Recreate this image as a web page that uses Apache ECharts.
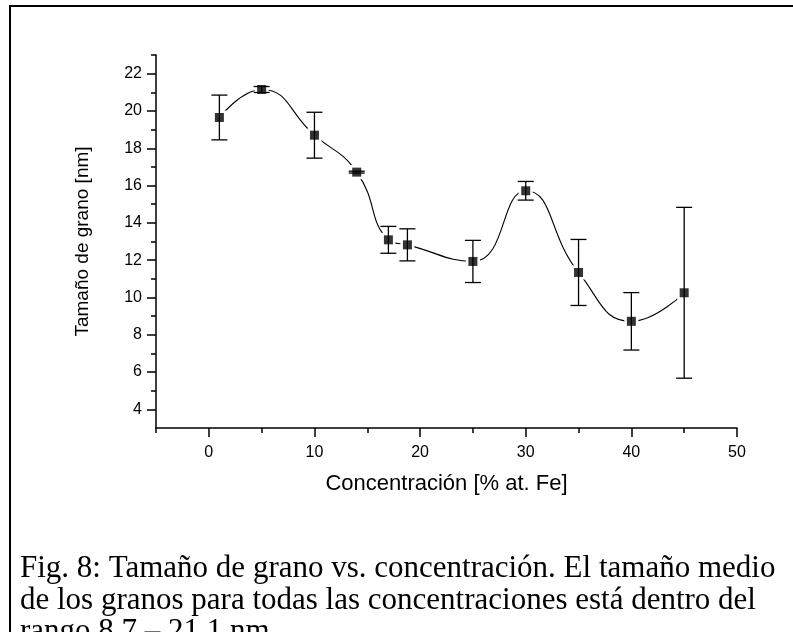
<!DOCTYPE html>
<html>
<head>
<meta charset="utf-8">
<script src="https://cdn.jsdelivr.net/npm/echarts@6/dist/echarts.min.js"></script>
<style>
  html, body { margin: 0; padding: 0; background: #fff; }
  #grano { width: 793px; height: 632px; }
</style>
</head>
<body>
<div id="grano"></div>
<script>
// datos
var conc = [1, 5, 10, 14, 17, 18.8, 25, 30, 35, 40, 45];
var tamano = [19.65, 21.15, 18.7, 16.72, 13.09, 12.82, 11.93, 15.72, 11.34, 8.72, 10.25];
var error = [1.2, 0.16, 1.23, 0.05, 0.72, 0.86, 1.13, 0.5, 1.77, 1.54, 4.58];

var xMajor = [0, 10, 20, 30, 40, 50];
var xMinor = [-5, 5, 15, 25, 35, 45];
var yMajor = [4, 6, 8, 10, 12, 14, 16, 18, 20, 22];
var yMinor = [5, 7, 9, 11, 13, 15, 17, 19, 21, 23];

var caption = [
    'Fig. 8: Tamaño de grano vs. concentración. El tamaño medio',
    'de los granos para todas las concentraciones está dentro del',
    'rango 8.7 – 21.1 nm'
];

var puntos = conc.map(function (x, i) { return [x, tamano[i]]; });
var barras = conc.map(function (x, i) { return [x, tamano[i] - error[i], tamano[i] + error[i]]; });

var font = 'Liberation Sans, Arial, sans-serif';
var serif = '31px "Liberation Serif", "Times New Roman", serif';
var tickStyle = { color: '#000', width: 1.5 };

var myChart = echarts.init(document.getElementById('grano'));
option = {
    animation: false,
    backgroundColor: '#fff',
    grid: { left: 156, right: 56, top: 55, bottom: 204 },
    xAxis: [
        {
            type: 'value', min: -5, max: 50,
            axisLine: { show: true, onZero: false, lineStyle: { color: '#000', width: 1.5 } },
            axisTick: { customValues: xMajor, length: 9, lineStyle: tickStyle },
            axisLabel: { customValues: xMajor, color: '#000', fontSize: 16, fontFamily: font, margin: 17 },
            splitLine: { show: false },
            name: 'Concentración [% at. Fe]',
            nameLocation: 'middle', nameGap: 45,
            nameTextStyle: { color: '#000', fontSize: 22, fontFamily: font }
        },
        {
            type: 'value', min: -5, max: 50, position: 'bottom',
            axisLine: { show: false, onZero: false },
            axisTick: { customValues: xMinor, length: 5, lineStyle: tickStyle },
            axisLabel: { show: false },
            splitLine: { show: false }
        }
    ],
    yAxis: [
        {
            type: 'value', min: 3, max: 23,
            axisLine: { show: true, onZero: false, lineStyle: { color: '#000', width: 1.5 } },
            axisTick: { customValues: yMajor, length: 9, lineStyle: tickStyle },
            axisLabel: { customValues: yMajor, color: '#000', fontSize: 16, fontFamily: font, margin: 14 },
            splitLine: { show: false },
            name: 'Tamaño de grano [nm]',
            nameLocation: 'middle', nameGap: 64, nameRotate: 90,
            nameTextStyle: { color: '#000', fontSize: 19, fontFamily: font }
        },
        {
            type: 'value', min: 3, max: 23, position: 'left',
            axisLine: { show: false, onZero: false },
            axisTick: { customValues: yMinor, length: 5, lineStyle: tickStyle },
            axisLabel: { show: false },
            splitLine: { show: false }
        }
    ],
    series: [
        {
            // curva suave con hueco blanco alrededor de cada punto
            type: 'line',
            data: puntos,
            smooth: 0.5,
            symbol: 'square',
            symbolSize: 14,
            itemStyle: { color: '#fff' },
            lineStyle: { color: '#000', width: 1.1 },
            z: 2
        },
        {
            type: 'custom',
            data: barras,
            renderItem: function (params, api) {
                var x = api.value(0);
                var lo = api.coord([x, api.value(1)]);
                var hi = api.coord([x, api.value(2)]);
                var w = 8;
                var st = { stroke: '#000', lineWidth: 1.3 };
                return {
                    type: 'group',
                    children: [
                        { type: 'line', shape: { x1: lo[0], y1: lo[1], x2: hi[0], y2: hi[1] }, style: st },
                        { type: 'line', shape: { x1: hi[0] - w, y1: hi[1], x2: hi[0] + w, y2: hi[1] }, style: st },
                        { type: 'line', shape: { x1: lo[0] - w, y1: lo[1], x2: lo[0] + w, y2: lo[1] }, style: st }
                    ]
                };
            },
            z: 3
        },
        {
            type: 'scatter',
            data: puntos,
            symbol: 'square',
            symbolSize: 9,
            itemStyle: { color: '#000' },
            z: 4
        }
    ],
    graphic: [
        {
            type: 'rect',
            shape: { x: 10, y: 6, width: 800, height: 660 },
            style: { fill: null, stroke: '#000', lineWidth: 2 },
            silent: true
        },
        { type: 'text', left: 20, top: 553, style: { text: caption[0], font: serif, fill: '#000' } },
        { type: 'text', left: 20, top: 585, style: { text: caption[1], font: serif, fill: '#000' } },
        { type: 'text', left: 20, top: 616, style: { text: caption[2], font: serif, fill: '#000' } }
    ]
};
myChart.setOption(option);
</script>
</body>
</html>
